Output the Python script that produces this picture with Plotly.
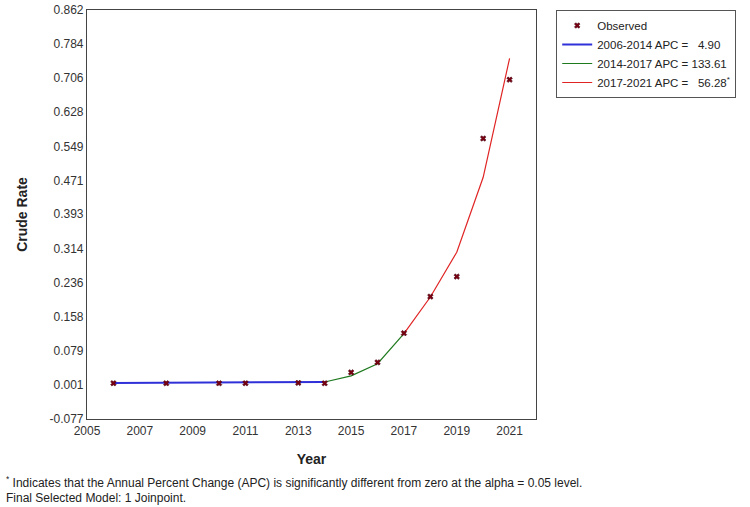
import plotly.graph_objects as go

obs_years = [2006, 2008, 2010, 2011, 2013, 2014, 2015, 2016, 2017, 2018, 2019, 2020, 2021]
obs_rate = [0.005, 0.005, 0.005, 0.005, 0.006, 0.005, 0.030, 0.053, 0.120, 0.204, 0.250, 0.567, 0.702]

seg1_years = [2006, 2008, 2010, 2011, 2013, 2014]
seg1_fit = [0.0055, 0.006, 0.0066, 0.0069, 0.0076, 0.008]
seg2_years = [2014, 2015, 2016, 2017]
seg2_fit = [0.008, 0.022, 0.050, 0.119]
seg3_years = [2017, 2018, 2019, 2020, 2021]
seg3_fit = [0.119, 0.203, 0.306, 0.478, 0.751]

legend_names = ["Observed",
                "2006-2014 APC =\u00a0\u00a0 4.90",
                "2014-2017 APC = 133.61",
                "2017-2021 APC =\u00a0\u00a0 56.28<sup>*</sup>"]

x_ticks = [2005, 2007, 2009, 2011, 2013, 2015, 2017, 2019, 2021]
y_ticks = [-0.077, 0.001, 0.079, 0.158, 0.236, 0.314, 0.393, 0.471, 0.549, 0.628, 0.706, 0.784, 0.862]
y_tick_text = ["-0.077", "0.001", "0.079", "0.158", "0.236", "0.314", "0.393", "0.471",
               "0.549", "0.628", "0.706", "0.784", "0.862"]

footnote_1 = "<sup>*</sup> Indicates that the Annual Percent Change (APC) is significantly different from zero at the alpha = 0.05 level."
footnote_2 = "Final Selected Model: 1 Joinpoint."

FONT = "Liberation Sans, Arial, sans-serif"

fig = go.Figure()
fig.add_trace(go.Scatter(x=seg1_years, y=seg1_fit, mode="lines", name=legend_names[1],
                         legendrank=2, line=dict(color="#3030d8", width=2)))
fig.add_trace(go.Scatter(x=seg2_years, y=seg2_fit, mode="lines", name=legend_names[2],
                         legendrank=3, line=dict(color="#1f7a1f", width=1.2)))
fig.add_trace(go.Scatter(x=seg3_years, y=seg3_fit, mode="lines", name=legend_names[3],
                         legendrank=4, line=dict(color="#e02424", width=1.2)))
fig.add_trace(go.Scatter(x=obs_years, y=obs_rate, mode="markers", name=legend_names[0],
                         legendrank=1,
                         marker=dict(symbol="x", size=5, color="#7a0010",
                                     line=dict(width=0.5, color="#3a0010"))))

fig.update_layout(
    width=750, height=507,
    margin=dict(l=87, r=214, t=10, b=88, autoexpand=False),
    paper_bgcolor="white", plot_bgcolor="white",
    font=dict(family=FONT, size=12, color="#333333"),
    showlegend=True,
    legend=dict(x=1.045, y=1.0, xanchor="left", yanchor="top",
                bordercolor="#555555", borderwidth=1, bgcolor="white",
                font=dict(family=FONT, size=11.5, color="#222222"),
                itemwidth=30, tracegroupgap=0),
    xaxis=dict(range=[2005, 2022], tickmode="array", tickvals=x_ticks,
               ticktext=[str(v) for v in x_ticks],
               showgrid=False, zeroline=False, showline=True, linecolor="#444444",
               linewidth=1.2, mirror=True, ticks="", ticklen=0,
               tickfont=dict(size=12, color="#333333"),
               title=dict(text="<b>Year</b>", font=dict(size=14, color="#222222"), standoff=17)),
    yaxis=dict(range=[-0.077, 0.862], tickmode="array", tickvals=y_ticks, ticktext=y_tick_text,
               showgrid=False, zeroline=False, showline=True, linecolor="#444444",
               linewidth=1.2, mirror=True, ticks="", ticklen=0,
               tickfont=dict(size=12, color="#333333"),
               title=dict(text="<b>Crude Rate</b>", font=dict(size=14, color="#222222"), standoff=18)),
    annotations=[
        dict(text=footnote_1, xref="paper", yref="paper", x=-0.185, y=-0.1775,
             xanchor="left", yanchor="bottom", showarrow=False,
             font=dict(size=12, color="#222222")),
        dict(text=footnote_2, xref="paper", yref="paper", x=-0.185, y=-0.2155,
             xanchor="left", yanchor="bottom", showarrow=False,
             font=dict(size=12, color="#222222")),
    ],
)

fig.write_html("out.html", config={"displayModeBar": False},
               post_script="document.body.style.margin='0';")
